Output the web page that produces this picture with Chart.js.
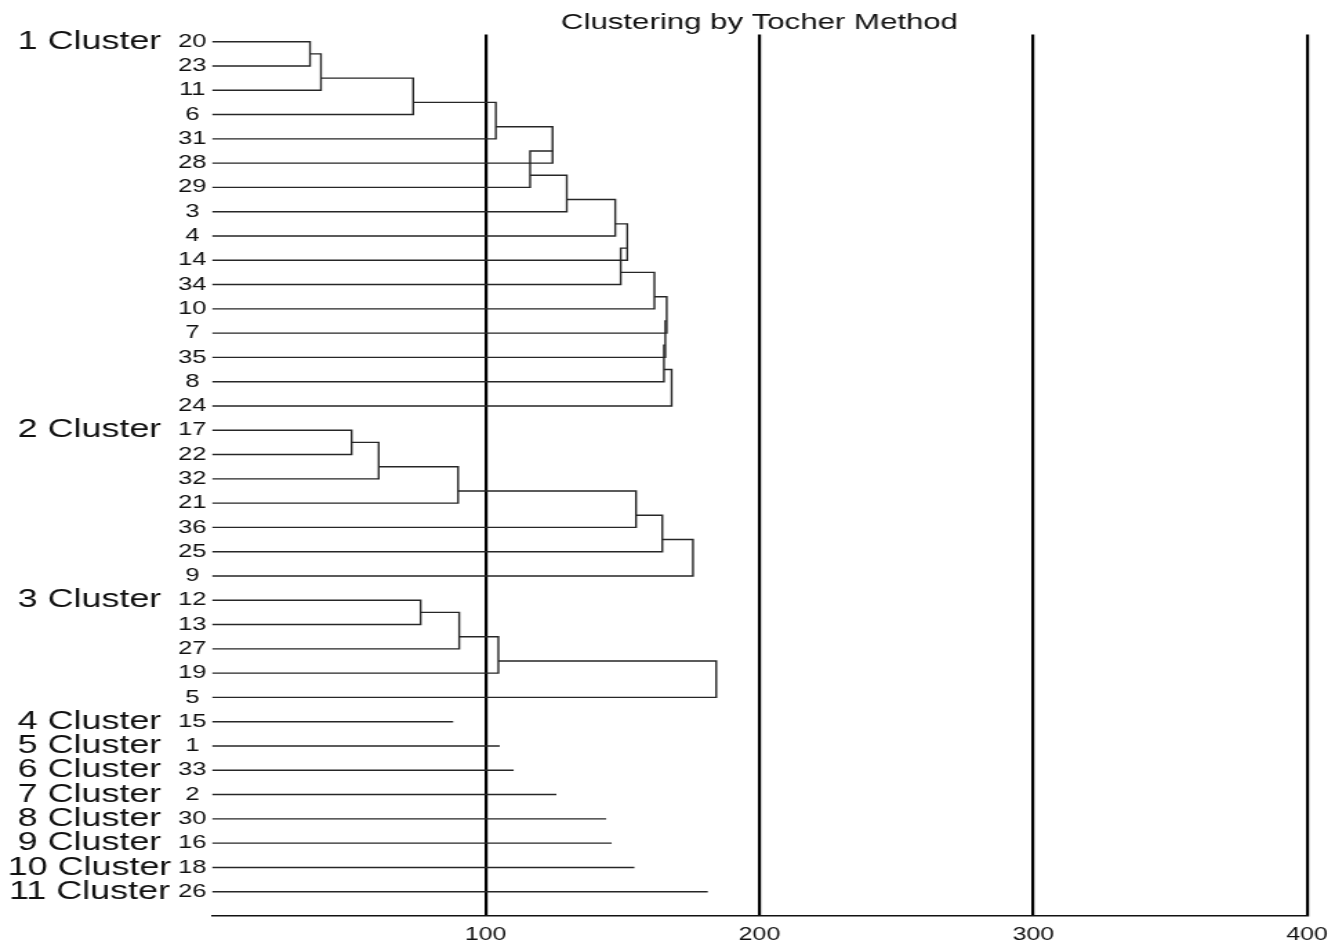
<!DOCTYPE html>
<html>
<head>
<meta charset="utf-8">
<script src="https://cdn.jsdelivr.net/npm/chart.js@4.4.1/dist/chart.umd.min.js"></script>
<style>
  html, body { margin: 0; padding: 0; background: #fff; overflow: hidden; }
  /* the original picture is stretched sideways, so the canvas is too */
  #wrap { width: 967px; height: 942px; transform: scaleX(1.38056); transform-origin: 0 0; }
</style>
</head>
<body>
<div id="wrap"><canvas id="tocher" width="967" height="942"></canvas></div>
<script>
// clusters from the Tocher method, leaves in drawing order
const cluster1Leaves = ['20', '23', '11', '6', '31', '28', '29', '3', '4', '14', '34', '10', '7', '35', '8', '24'];
const cluster1Joins = [35.8, 39.8, 73.5, 103.7, 124.4, 116.2, 129.6, 147.3, 151.7, 149.3, 161.6, 166.1, 165.6, 165.1, 167.9];

const cluster2Leaves = ['17', '22', '32', '21', '36', '25', '9'];
const cluster2Joins = [51.0, 60.9, 89.9, 154.9, 164.5, 175.7];

const cluster3Leaves = ['12', '13', '27', '19', '5'];
const cluster3Joins = [76.2, 90.3, 104.6, 184.2];

// clusters 4..11 hold a single genotype each
const singleLeaves = ['15', '1', '33', '2', '30', '16', '18', '26'];
const singleLengths = [88.1, 105.1, 110.2, 125.8, 144.0, 146.0, 154.3, 181.1];

const clusterNames = ['1 Cluster', '2 Cluster', '3 Cluster', '4 Cluster', '5 Cluster', '6 Cluster',
                      '7 Cluster', '8 Cluster', '9 Cluster', '10 Cluster', '11 Cluster'];
const xTicks = [100, 200, 300, 400];

const LINE = '#262626';

const leafLabels = [...cluster1Leaves, ...cluster2Leaves, ...cluster3Leaves, ...singleLeaves];
const clusterStartRows = [];
const datasets = [];

function seg(points) {
    datasets.push({
        data: points,
        showLine: true,
        borderColor: LINE,
        borderWidth: 1.4,
        pointRadius: 0,
        fill: false,
        tension: 0
    });
}

// chain-shaped cluster: each join brings in one more leaf
function addChain(leaves, joins, startRow) {
    clusterStartRows.push(startRow);
    seg([{ x: 0, y: startRow }, { x: joins[0], y: startRow }, { x: joins[0], y: startRow + 1 }, { x: 0, y: startRow + 1 }]);
    let prevX = joins[0];
    let prevY = startRow + 0.5;
    for (let k = 1; k < joins.length; k++) {
        const row = startRow + k + 1;
        seg([{ x: prevX, y: prevY }, { x: joins[k], y: prevY }, { x: joins[k], y: row }, { x: 0, y: row }]);
        prevX = joins[k];
        prevY = row - 0.5;
    }
    return startRow + leaves.length;
}

let row = 0;
row = addChain(cluster1Leaves, cluster1Joins, row);
row = addChain(cluster2Leaves, cluster2Joins, row);
row = addChain(cluster3Leaves, cluster3Joins, row);
singleLengths.forEach((len, i) => {
    clusterStartRows.push(row + i);
    seg([{ x: 0, y: row + i }, { x: len, y: row + i }]);
});

const FONT = '"Liberation Sans", Arial, sans-serif';

new Chart(document.getElementById('tocher'), {
    type: 'scatter',
    data: { datasets: datasets },
    options: {
        responsive: false,
        animation: false,
        events: [],
        layout: { padding: { left: 0, right: 20.3, top: 0, bottom: 0 } },
        plugins: {
            legend: { display: false },
            tooltip: { enabled: false },
            title: {
                display: true,
                text: 'Clustering by Tocher Method',
                fullSize: false,
                color: '#111',
                font: { family: FONT, size: 22.6, weight: 'normal', lineHeight: 1 },
                padding: { top: 11, bottom: 0.8 }
            }
        },
        scales: {
            x: {
                type: 'linear',
                min: 0,
                max: 400,
                afterBuildTicks: (scale) => { scale.ticks = xTicks.map(v => ({ value: v })); },
                afterFit: (scale) => {
                    scale.height = 26;
                    // "400" may hang past the right edge, as in the original
                    scale.paddingLeft = 0;
                    scale.paddingRight = 0;
                },
                grid: { color: '#000', lineWidth: 2.2, drawTicks: false },
                border: { display: true, color: '#111', width: 1.4 },
                ticks: {
                    color: '#111',
                    padding: 8,
                    maxRotation: 0,
                    font: { family: FONT, size: 18 }
                }
            },
            y: {
                type: 'linear',
                position: 'left',
                reverse: true,
                min: -0.3,
                max: 36,
                weight: 0,
                afterBuildTicks: (scale) => { scale.ticks = leafLabels.map((_, i) => ({ value: i })); },
                afterFit: (scale) => { scale.width = 29.56; },
                grid: { display: false, drawTicks: false },
                border: { display: false },
                ticks: {
                    autoSkip: false,
                    crossAlign: 'center',
                    padding: 4,
                    color: '#111',
                    font: { family: FONT, size: 18.5 },
                    callback: (v) => leafLabels[v]
                }
            },
            yc: {
                type: 'linear',
                position: 'left',
                reverse: true,
                min: -0.3,
                max: 36,
                weight: 1,
                afterBuildTicks: (scale) => { scale.ticks = clusterStartRows.map(v => ({ value: v })); },
                afterFit: (scale) => { scale.width = 124; },
                grid: { display: false, drawTicks: false },
                border: { display: false },
                ticks: {
                    autoSkip: false,
                    crossAlign: 'center',
                    padding: 0,
                    color: '#111',
                    font: { family: FONT, size: 26 },
                    callback: (v) => clusterNames[clusterStartRows.indexOf(v)]
                }
            }
        }
    }
});
</script>
</body>
</html>
